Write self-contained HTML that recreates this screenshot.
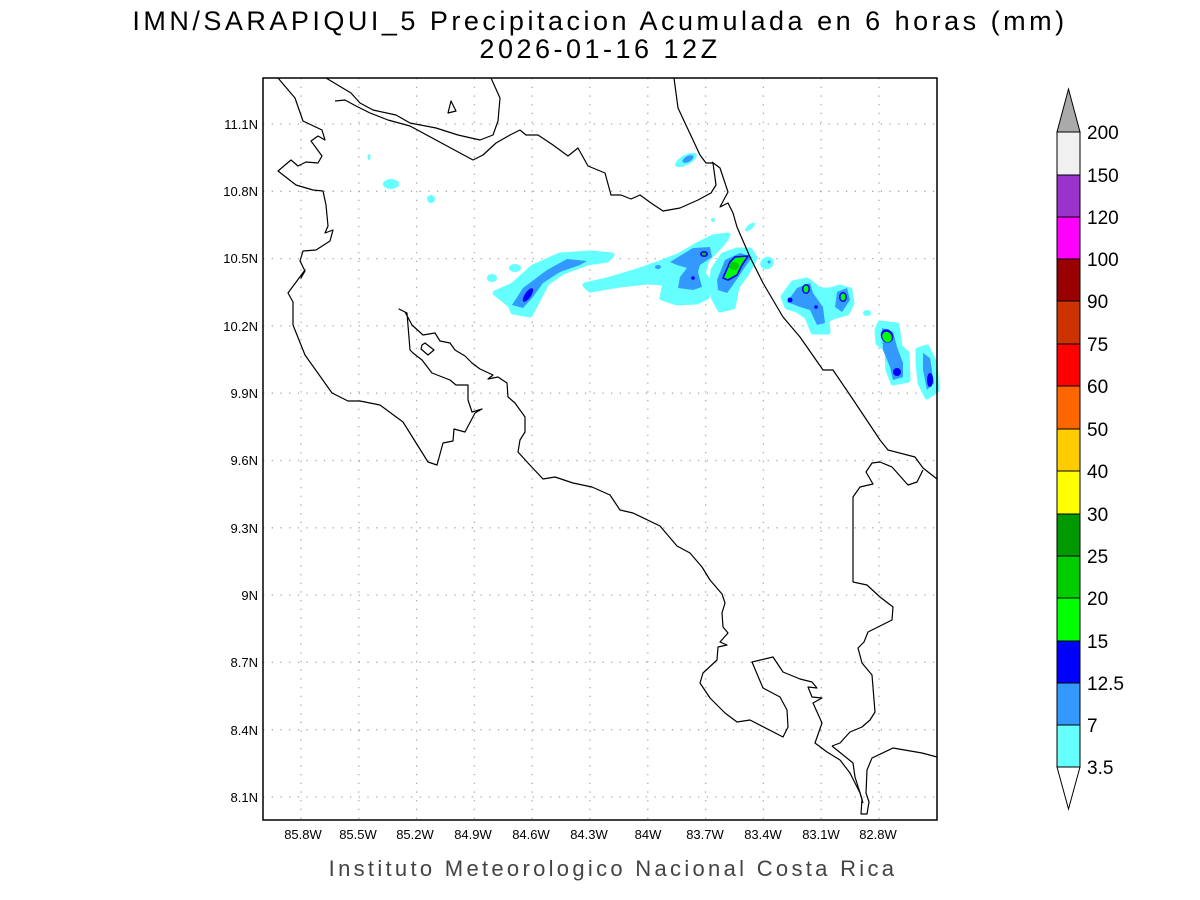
<!DOCTYPE html>
<html><head><meta charset="utf-8"><style>
html,body{margin:0;padding:0;background:#fff;}
svg{display:block;font-family:"Liberation Sans",sans-serif;}
</style></head><body>
<svg width="1200" height="900" viewBox="0 0 1200 900" xmlns="http://www.w3.org/2000/svg">
<rect width="1200" height="900" fill="#fff"/>
<text x="600" y="30" font-size="27" text-anchor="middle" fill="#000" letter-spacing="3.5">IMN/SARAPIQUI_5 Precipitacion Acumulada en 6 horas (mm)</text>
<text x="600" y="58" font-size="27" text-anchor="middle" fill="#000" letter-spacing="3.5">2026-01-16 12Z</text>

<!-- grid -->
<g stroke="#aaa" stroke-width="1.3" stroke-dasharray="1.3 7.4" fill="none">
<path d="M263 124H937M263 191.3H937M263 258.6H937M263 325.9H937M263 393.2H937M263 460.5H937M263 527.8H937M263 595.1H937M263 662.4H937M263 729.7H937M263 797H937"/>
<path d="M301 78V820M358.8 78V820M416.6 78V820M474.4 78V820M532.2 78V820M590 78V820M647.8 78V820M705.6 78V820M763.4 78V820M821.2 78V820M879 78V820"/>
</g>

<!-- precipitation -->
<g stroke-linejoin="round">
<g fill="#66ffff" stroke="#66ffff" stroke-width="5">
<path d="M495 293L513 285L533 267L560 255L590 253L612 255L607 260L587 263L563 272L547 283L537 302L530 315L513 312L510 305Z"/>
<path d="M585 285L607 280L640 270L660 263L680 255L697 245L713 237L728 235L723 243L707 260L703 273L710 283L707 297L697 302L677 303L662 298L665 283L647 282L620 285L590 290Z"/>
<path d="M712 283L713 270L723 255L737 250L750 250L755 258L747 273L737 287L733 307L720 310L713 297Z"/>
<path d="M783 297L793 283L807 280L820 290L830 290L840 287L850 290L852 303L847 313L833 317L827 320L828 332L813 332L807 317L797 310L787 307Z"/>
<path d="M877 330L880 323L897 325L900 347L907 353L908 380L893 383L888 370L887 350L878 343Z"/>
<path d="M918 350L927 347L935 363L937 390L927 397L920 383L918 363Z"/>
</g>
<g stroke="none">
<path fill="#3399ff" d="M512 305L523 288L547 270L567 259L587 261L580 265L560 272L543 283L533 297L523 308Z"/>
<ellipse cx="528" cy="295" rx="3" ry="8" transform="rotate(35 528 295)" fill="#0000ff"/>
<ellipse cx="492" cy="278" rx="5" ry="4" fill="#66ffff"/>
<ellipse cx="515" cy="268" rx="6" ry="4" fill="#66ffff"/>
<path fill="#3399ff" d="M670 262L677 265L687 268L680 277L678 288L693 290L702 287L698 272L700 265L712 257L710 247L693 248Z"/>
<ellipse cx="658" cy="267" rx="3" ry="2" fill="#3399ff"/>
<ellipse cx="704" cy="254" rx="4" ry="3" fill="#0000ff"/>
<ellipse cx="704" cy="254" rx="2" ry="1.5" fill="#00cc00"/>
<circle cx="693" cy="278" r="1.8" fill="#0000ff"/>
<path fill="#3399ff" d="M718 290L717 280L725 260L740 253L752 257L743 270L733 285L727 293Z"/>
<path fill="#00ff00" stroke="#0000ff" stroke-width="1.6" d="M723 278L730 262L735 257L748 256L742 265L737 275L728 280Z"/>
<ellipse cx="734" cy="266" rx="5" ry="4" fill="#00cc00"/>
<ellipse cx="767" cy="263" rx="7" ry="6" transform="rotate(-30 767 263)" fill="#66ffff"/>
<circle cx="769" cy="262" r="1.5" fill="#3399ff"/>
<ellipse cx="686" cy="160" rx="12" ry="5" transform="rotate(-28 686 160)" fill="#66ffff"/>
<ellipse cx="688" cy="159" rx="6" ry="3" transform="rotate(-28 688 159)" fill="#3399ff"/>
<ellipse cx="391" cy="184" rx="8" ry="5" fill="#66ffff"/>
<ellipse cx="431" cy="199" rx="4" ry="4" fill="#66ffff"/>
<ellipse cx="369" cy="157" rx="1.5" ry="3" fill="#66ffff"/>
<ellipse cx="713" cy="220" rx="2" ry="2" fill="#66ffff"/>
<ellipse cx="750" cy="227" rx="6" ry="2.5" transform="rotate(-40 750 227)" fill="#66ffff"/>
<path fill="#3399ff" d="M787 302L797 288L810 283L813 293L823 307L825 323L817 325L810 310L800 307Z"/>
<path fill="#3399ff" d="M837 292L847 288L850 300L842 312L835 307Z"/>
<ellipse cx="806" cy="289" rx="4" ry="5" fill="#0000ff"/>
<ellipse cx="806" cy="289" rx="2.5" ry="3.5" fill="#00ff00"/>
<ellipse cx="843" cy="297" rx="4" ry="5" fill="#0000ff"/>
<ellipse cx="843" cy="297" rx="2.5" ry="3.5" fill="#00ff00"/>
<circle cx="790" cy="300" r="2.5" fill="#0000ff"/>
<circle cx="816" cy="307" r="1.8" fill="#0000ff"/>
<ellipse cx="867" cy="313" rx="4" ry="3" fill="#66ffff"/>
<path fill="#3399ff" d="M882 328L893 332L897 347L903 363L903 377L893 380L890 367L883 350Z"/>
<ellipse cx="887" cy="336" rx="6" ry="7" transform="rotate(-30 887 336)" fill="#0000ff"/>
<ellipse cx="887" cy="337" rx="4.5" ry="5.5" transform="rotate(-30 887 337)" fill="#00ff00"/>
<circle cx="897" cy="372" r="4" fill="#0000ff"/>
<path fill="#3399ff" d="M923 353L930 358L934 383L927 390L923 370Z"/>
<ellipse cx="930" cy="380" rx="3" ry="7" fill="#0000ff"/>
</g>
</g>

<!-- coastlines -->
<g fill="none" stroke="#000" stroke-width="1.2" stroke-linejoin="round">
<polyline points="278,78 295,98 303,121 322,130 325,140 318,136 311,141 322,156 318,163 306,162 298,166 291,160 278,171 296,185 313,190 323,191 326,205 328,226 325,233 333,230 330,241 316,250 303,251 300,261 305,271 301,278 305,270 288,293 293,302 293,325 305,355 332,393 348,401 360,401 380,405 403,422 428,462 437,465 443,443 453,441 454,429 465,432 475,413 482,409 472,412 468,400 468,385 456,385 450,380 432,373 422,360 413,353 410,350 407,313 399,309 405,312 412,325 423,335 435,333 440,341 450,343 455,350 465,356 472,363 480,369 493,375 488,379 498,377 507,383 508,397 515,403 525,417 525,432 520,440 518,452 528,463 543,479 555,477 573,483 592,487 610,495 620,510 633,513 660,526 677,546 690,553 702,567 710,580 722,594 725,603 722,613 723,627 728,633 720,642 727,645 718,647 717,660 703,673 700,683 710,698 725,713 737,722 750,720 783,737 788,727 787,710 780,697 763,688 752,662 773,657 783,672 800,679 812,682 817,688 808,687 812,697 822,698 813,703 822,723 815,743 827,752 840,760 850,773 860,793 863,803"/>
<polyline points="832,746 853,763 855,777 862,799 861,814 867,814 869,802 866,793 867,770 872,758 893,748 922,753 937,757"/>
<polyline points="326,78 351,93 360,103 373,110 396,115 410,123 436,128 458,135 480,140 493,135 498,121 500,98 491,78"/>
<polyline points="335,101 345,100 356,106 370,113 388,120 410,126 473,160 483,155 496,143 510,135 520,130 526,135 538,135 553,145 568,156 578,148 588,166 605,173 611,195 621,195 631,199 640,195 651,203 663,211 680,208 698,200 711,193 716,185 713,163 706,163 700,155 678,108 674,78"/>
<polygon points="448,113 451,101 456,111"/>
<polygon points="422,345 425,343 434,350 428,355 421,349"/>
<polyline points="712,162 720,168 725,183 728,192 720,207 728,203 733,213 737,227 750,257 763,283 783,317 800,337 823,370 833,370 852,398 880,440 888,450 915,457 923,468 937,479"/>
<polyline points="853,582 853,497 860,487 873,484 866,472 872,463 880,462 892,467 908,485 917,482 923,470"/>
<polyline points="853,582 867,585 880,597 893,607 892,620 868,632 864,642 858,648 862,663 872,675 875,712 870,720 862,727 850,732 840,743 832,746"/>
</g>
<rect x="263" y="78" width="674" height="742" fill="none" stroke="#000" stroke-width="1.5"/>

<!-- axis labels -->
<g font-size="13" fill="#000" text-anchor="end">
<text x="258" y="129">11.1N</text><text x="258" y="196">10.8N</text><text x="258" y="263">10.5N</text><text x="258" y="331">10.2N</text><text x="258" y="398">9.9N</text><text x="258" y="465">9.6N</text><text x="258" y="533">9.3N</text><text x="258" y="600">9N</text><text x="258" y="667">8.7N</text><text x="258" y="735">8.4N</text><text x="258" y="802">8.1N</text>
</g>
<g font-size="13" fill="#000" text-anchor="middle">
<text x="303" y="839">85.8W</text><text x="358" y="839">85.5W</text><text x="415" y="839">85.2W</text><text x="473" y="839">84.9W</text><text x="531" y="839">84.6W</text><text x="589" y="839">84.3W</text><text x="648" y="839">84W</text><text x="705" y="839">83.7W</text><text x="763" y="839">83.4W</text><text x="821" y="839">83.1W</text><text x="878" y="839">82.8W</text>
</g>
<text x="613" y="876" font-size="22" text-anchor="middle" fill="#444" letter-spacing="3.3">Instituto Meteorologico Nacional Costa Rica</text>

<!-- colorbar -->
<g stroke="#000" stroke-width="1">
<polygon points="1057,132 1080,132 1068.5,89" fill="#aaaaaa"/>
<rect x="1057" y="132" width="23" height="43" fill="#f0f0f0"/>
<rect x="1057" y="175" width="23" height="42" fill="#9933cc"/>
<rect x="1057" y="217" width="23" height="42" fill="#ff00ff"/>
<rect x="1057" y="259" width="23" height="42" fill="#990000"/>
<rect x="1057" y="301" width="23" height="43" fill="#cc3300"/>
<rect x="1057" y="344" width="23" height="42" fill="#ff0000"/>
<rect x="1057" y="386" width="23" height="43" fill="#ff6600"/>
<rect x="1057" y="429" width="23" height="42" fill="#ffcc00"/>
<rect x="1057" y="471" width="23" height="43" fill="#ffff00"/>
<rect x="1057" y="514" width="23" height="42" fill="#009900"/>
<rect x="1057" y="556" width="23" height="42" fill="#00cc00"/>
<rect x="1057" y="598" width="23" height="43" fill="#00ff00"/>
<rect x="1057" y="641" width="23" height="42" fill="#0000ff"/>
<rect x="1057" y="683" width="23" height="42" fill="#3399ff"/>
<rect x="1057" y="725" width="23" height="42" fill="#66ffff"/>
<polygon points="1057,767 1080,767 1068.5,809" fill="#ffffff"/>
</g>
<g font-size="19" fill="#000">
<text x="1087" y="139">200</text><text x="1087" y="182">150</text><text x="1087" y="224">120</text><text x="1087" y="266">100</text><text x="1087" y="308">90</text><text x="1087" y="351">75</text><text x="1087" y="393">60</text><text x="1087" y="436">50</text><text x="1087" y="478">40</text><text x="1087" y="521">30</text><text x="1087" y="563">25</text><text x="1087" y="605">20</text><text x="1087" y="648">15</text><text x="1087" y="690">12.5</text><text x="1087" y="732">7</text><text x="1087" y="774">3.5</text>
</g>
</svg>
</body></html>
